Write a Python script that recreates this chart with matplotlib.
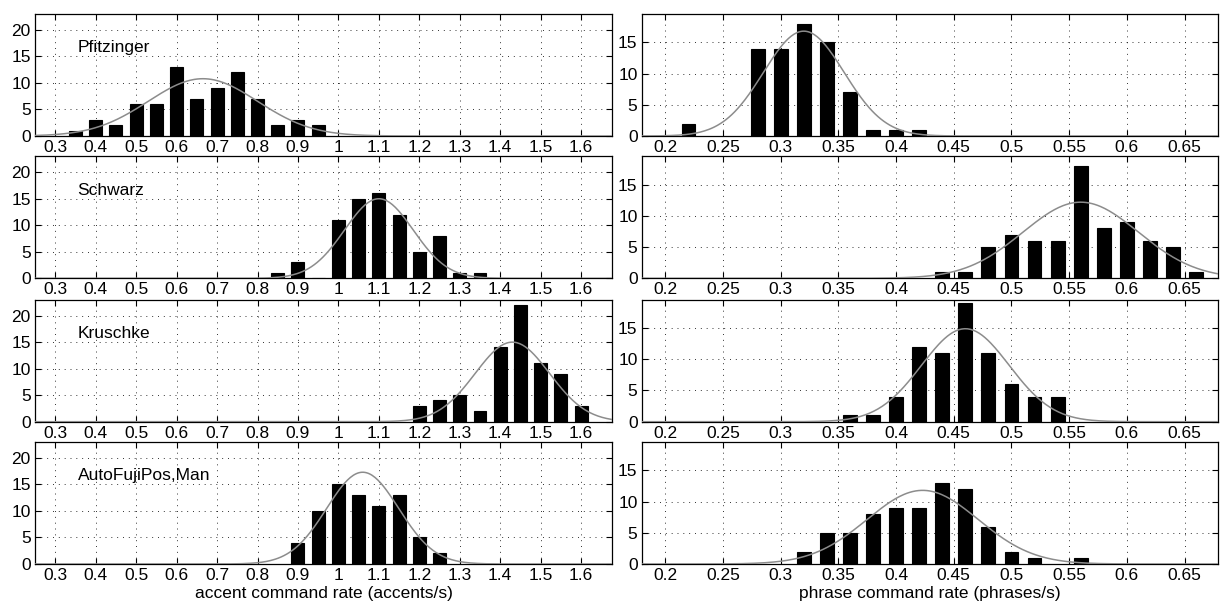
import numpy as np
import matplotlib
matplotlib.use('Agg')
import matplotlib.pyplot as plt

plt.rcParams['font.family'] = ['Liberation Sans', 'DejaVu Sans']

# ---- data ----
speakers = ['Pfitzinger', 'Schwarz', 'Kruschke', 'AutoFujiPos,Man']

# accent command rate histograms (bin centres, counts)
acc_centers_pfitzinger = [0.35, 0.40, 0.45, 0.50, 0.55, 0.60, 0.65, 0.70, 0.75, 0.80, 0.85, 0.90, 0.95]
acc_counts_pfitzinger = [1, 3, 2, 6, 6, 13, 7, 9, 12, 7, 2, 3, 2]
acc_centers_schwarz = [0.85, 0.90, 0.95, 1.00, 1.05, 1.10, 1.15, 1.20, 1.25, 1.30, 1.35]
acc_counts_schwarz = [1, 3, 0, 11, 15, 16, 12, 5, 8, 1, 1]
acc_centers_kruschke = [1.20, 1.25, 1.30, 1.35, 1.40, 1.45, 1.50, 1.55, 1.60]
acc_counts_kruschke = [3, 4, 5, 2, 14, 22, 11, 9, 3]
acc_centers_auto = [0.90, 0.95, 1.00, 1.05, 1.10, 1.15, 1.20, 1.25]
acc_counts_auto = [4, 10, 15, 13, 11, 13, 5, 2]

# phrase command rate histograms
phr_centers_pfitzinger = [0.22, 0.28, 0.30, 0.32, 0.34, 0.36, 0.38, 0.40, 0.42]
phr_counts_pfitzinger = [2, 14, 14, 18, 15, 7, 1, 1, 1]
phr_centers_schwarz = [0.44, 0.46, 0.48, 0.50, 0.52, 0.54, 0.56, 0.58, 0.60, 0.62, 0.64, 0.66]
phr_counts_schwarz = [1, 1, 5, 7, 6, 6, 18, 8, 9, 6, 5, 1]
phr_centers_kruschke = [0.36, 0.38, 0.40, 0.42, 0.44, 0.46, 0.48, 0.50, 0.52, 0.54]
phr_counts_kruschke = [1, 1, 4, 12, 11, 19, 11, 6, 4, 4]
phr_centers_auto = [0.32, 0.34, 0.36, 0.38, 0.40, 0.42, 0.44, 0.46, 0.48, 0.50, 0.52, 0.56]
phr_counts_auto = [2, 5, 5, 8, 9, 9, 13, 12, 6, 2, 1, 1]

# fitted normal curves: (mean, sigma, peak height)
acc_fits = [(0.665, 0.135, 10.8), (1.10, 0.085, 15.0), (1.43, 0.092, 15.0), (1.06, 0.089, 17.3)]
phr_fits = [(0.32, 0.035, 16.8), (0.56, 0.05, 12.2), (0.46, 0.038, 14.9), (0.423, 0.048, 11.8)]

acc_data = [(acc_centers_pfitzinger, acc_counts_pfitzinger),
            (acc_centers_schwarz, acc_counts_schwarz),
            (acc_centers_kruschke, acc_counts_kruschke),
            (acc_centers_auto, acc_counts_auto)]
phr_data = [(phr_centers_pfitzinger, phr_counts_pfitzinger),
            (phr_centers_schwarz, phr_counts_schwarz),
            (phr_centers_kruschke, phr_counts_kruschke),
            (phr_centers_auto, phr_counts_auto)]

acc_ticks = [0.3, 0.4, 0.5, 0.6, 0.7, 0.8, 0.9, 1, 1.1, 1.2, 1.3, 1.4, 1.5, 1.6]
acc_ticklabels = ['0.3', '0.4', '0.5', '0.6', '0.7', '0.8', '0.9', '1', '1.1', '1.2', '1.3', '1.4', '1.5', '1.6']
phr_ticks = [0.2, 0.25, 0.3, 0.35, 0.4, 0.45, 0.5, 0.55, 0.6, 0.65]
phr_ticklabels = ['0.2', '0.25', '0.3', '0.35', '0.4', '0.45', '0.5', '0.55', '0.6', '0.65']

W, H = 1221, 605
fig = plt.figure(figsize=(W / 100, H / 100), dpi=100)

row_bottoms = [136, 278.3, 421.7, 564]   # pixel y of the zero line
row_h = 122
left_x0, left_x1 = 35, 612.3
right_x0, right_x1 = 641.7, 1218

grid_style = dict(color='black', linestyle=(0, (1, 5)), linewidth=0.7, alpha=0.8)


def style_axes(ax, xticks, xticklabels, xlim, ylim, yticks):
    ax.set_xlim(*xlim)
    ax.set_ylim(*ylim)
    ax.set_xticks(xticks)
    ax.set_xticklabels(xticklabels)
    ax.set_yticks(yticks)
    ax.tick_params(direction='in', length=4, width=0.8, labelsize=12.5, pad=3,
                   top=True, right=True)
    ax.grid(True, **grid_style)
    ax.set_axisbelow(True)
    for sp in ax.spines.values():
        sp.set_linewidth(0.9)


for i in range(4):
    yb = 1 - row_bottoms[i] / H
    hh = row_h / H

    # accent command rate (left column)
    ax = fig.add_axes([left_x0 / W, yb, (left_x1 - left_x0) / W, hh])
    centers, counts = acc_data[i]
    ax.bar(centers, counts, width=0.032, color='black', edgecolor='black', linewidth=0.8, zorder=2)
    mu, sd, pk = acc_fits[i]
    xs = np.linspace(0.25, 1.677, 400)
    ax.plot(xs, pk * np.exp(-(xs - mu) ** 2 / (2 * sd ** 2)), color='#8c8c8c', linewidth=1.1, zorder=3)
    style_axes(ax, acc_ticks, acc_ticklabels, (0.25, 1.677), (0, 23), [0, 5, 10, 15, 20])
    ax.text(0.355, 16.6, speakers[i], fontsize=12.5, va='center', ha='left')
    if i == 3:
        ax.set_xlabel('accent command rate (accents/s)', fontsize=12.5, labelpad=2)

    # phrase command rate (right column)
    ax = fig.add_axes([right_x0 / W, yb, (right_x1 - right_x0) / W, hh])
    centers, counts = phr_data[i]
    ax.bar(centers, counts, width=0.012, color='black', edgecolor='black', linewidth=0.8, zorder=2)
    mu, sd, pk = phr_fits[i]
    xs = np.linspace(0.18, 0.68, 400)
    ax.plot(xs, pk * np.exp(-(xs - mu) ** 2 / (2 * sd ** 2)), color='#8c8c8c', linewidth=1.1, zorder=3)
    style_axes(ax, phr_ticks, phr_ticklabels, (0.1795, 0.679), (0, 19.55), [0, 5, 10, 15])
    if i == 3:
        ax.set_xlabel('phrase command rate (phrases/s)', fontsize=12.5, labelpad=2)

fig.savefig('out.png', dpi=100)
